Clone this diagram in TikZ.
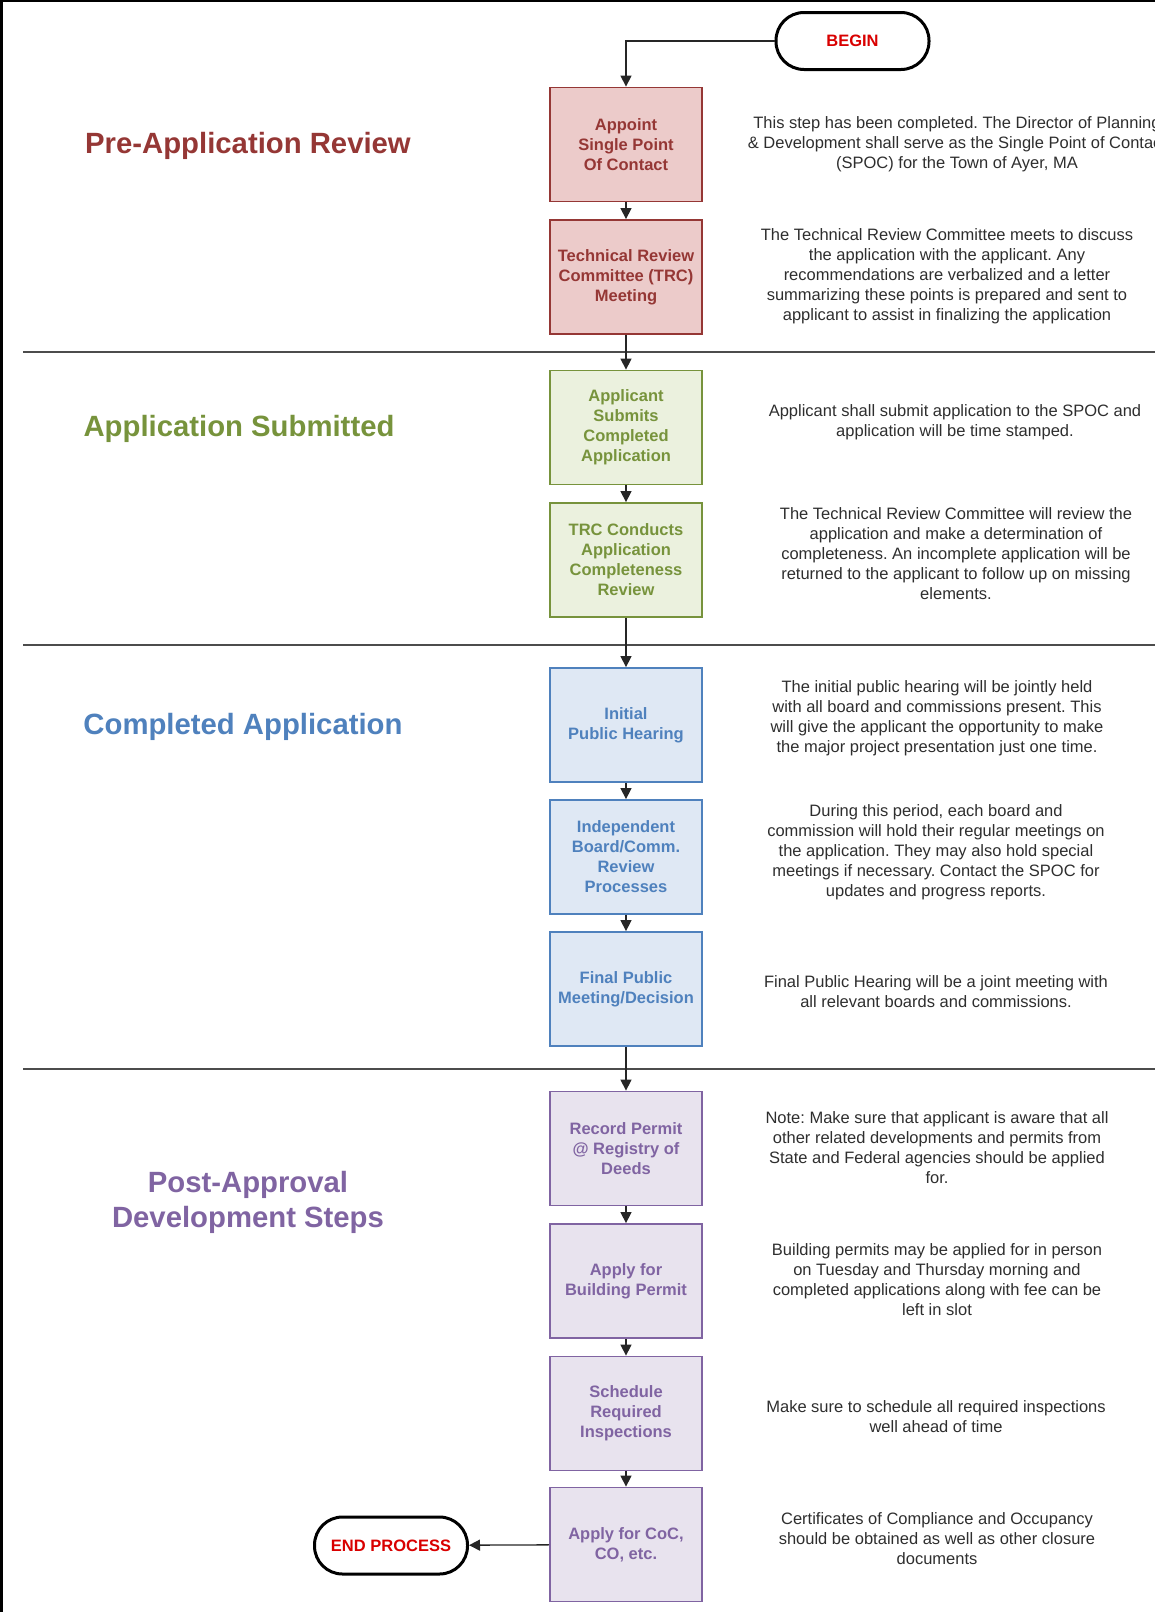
\documentclass[tikz,border=0pt]{standalone}
\usepackage{fontspec}
\setmainfont{Liberation Sans}
\usetikzlibrary{arrows.meta}
\definecolor{prered}{HTML}{953735}
\definecolor{prefill}{HTML}{ECCBCA}
\definecolor{subgreen}{HTML}{77933C}
\definecolor{subfill}{HTML}{EBF1DE}
\definecolor{compblue}{HTML}{4F81BD}
\definecolor{compfill}{HTML}{DFE8F4}
\definecolor{postpurple}{HTML}{8064A2}
\definecolor{postfill}{HTML}{E8E3EE}
\frenchspacing

\begin{document}
\begin{tikzpicture}[x=1pt, y=-1pt,
  stepbox/.style={rectangle, minimum width=152pt, minimum height=114pt, inner sep=0pt,
    line width=1.8pt, align=center, font=\fontsize{16.5}{20}\selectfont\bfseries},
  redbox/.style={stepbox, draw=prered, fill=prefill, text=prered},
  greenbox/.style={stepbox, draw=subgreen, fill=subfill, text=subgreen},
  bluebox/.style={stepbox, draw=compblue, fill=compfill, text=compblue},
  purplebox/.style={stepbox, draw=postpurple, fill=postfill, text=postpurple},
  terminal/.style={rectangle, rounded corners=28pt, minimum width=153pt, minimum height=57pt,
    line width=3pt, draw=black, fill=white, text=red!85!black, font=\fontsize{16.5}{20}\selectfont\bfseries},
  note/.style={align=center, text=black!82, font=\fontsize{16.5}{20}\selectfont},
  heading/.style={align=center, font=\fontsize{29.3}{35}\selectfont\bfseries},
  flow/.style={-{Triangle[length=11pt,width=11pt]}, line width=1.3pt, draw=black!85},
  sectline/.style={line width=1.8pt, draw=black!70}]
\useasboundingbox (0,0) rectangle (1155,1612);
\clip (0,0) rectangle (1155,1612);

% frame
\draw[line width=2.6pt] (1.3,1612) -- (1.3,0);
\draw[line width=1.5pt] (0,0.75) -- (1155,0.75);

% section rules
\draw[sectline] (23,352) -- (1155,352);
\draw[sectline] (23,645) -- (1155,645);
\draw[sectline] (23,1069) -- (1155,1069);

% headings
\node[heading, text=prered] (hpre) at (248,146) {Pre-Application Review};
\node[heading, text=subgreen] (hsub) at (239,429) {Application Submitted};
\node[heading, text=compblue] (hcomp) at (243,727) {Completed Application};
\node[heading, text=postpurple] (hpost) at (248,1202) {Post-Approval\\Development Steps};

% steps
\node[terminal] (begin) at (852.5,41) {BEGIN};
\node[redbox] (appoint) at (626,144.5) {Appoint\\Single Point\\Of Contact};
\node[redbox] (trc) at (626,277) {Technical Review\\Committee (TRC)\\Meeting};
\node[greenbox] (submit) at (626,427.5) {Applicant\\Submits\\Completed\\Application};
\node[greenbox] (complete) at (626,560) {TRC Conducts\\Application\\Completeness\\Review};
\node[bluebox] (hearing) at (626,725) {Initial\\Public Hearing};
\node[bluebox] (review) at (626,857) {Independent\\Board/Comm.\\Review\\Processes};
\node[bluebox] (final) at (626,989) {Final Public\\Meeting/Decision};
\node[purplebox] (record) at (626,1148.5) {Record Permit\\@ Registry of\\Deeds};
\node[purplebox] (building) at (626,1281) {Apply for\\Building Permit};
\node[purplebox] (inspect) at (626,1413.5) {Schedule\\Required\\Inspections};
\node[purplebox] (coc) at (626,1544.5) {Apply for CoC,\\CO, etc.};
\node[terminal] (endproc) at (391,1545.5) {END PROCESS};

% notes
\node[note] (n1) at (957,144) {This step has been completed. The Director of Planning\\\& Development shall serve as the Single Point of Contact\\(SPOC) for the Town of Ayer, MA};
\node[note] (n2) at (947,276) {The Technical Review Committee meets to discuss\\the application with the applicant. Any\\recommendations are verbalized and a letter\\summarizing these points is prepared and sent to\\applicant to assist in finalizing the application};
\node[note] (n3) at (955,422) {Applicant shall submit application to the SPOC and\\application will be time stamped.};
\node[note] (n4) at (956,554) {The Technical Review Committee will review the\\application and make a determination of\\completeness. An incomplete application will be\\returned to the applicant to follow up on missing\\elements.};
\node[note] (n5) at (937,718) {The initial public hearing will be jointly held\\with all board and commissions present. This\\will give the applicant the opportunity to make\\the major project presentation just one time.};
\node[note] (n6) at (936,852) {During this period, each board and\\commission will hold their regular meetings on\\the application. They may also hold special\\meetings if necessary. Contact the SPOC for\\updates and progress reports.};
\node[note] (n7) at (936,992) {Final Public Hearing will be a joint meeting with\\all relevant boards and commissions.};
\node[note] (n8) at (937,1148) {Note: Make sure that applicant is aware that all\\other related developments and permits from\\State and Federal agencies should be applied\\for.};
\node[note] (n9) at (937,1280) {Building permits may be applied for in person\\on Tuesday and Thursday morning and\\completed applications along with fee can be\\left in slot};
\node[note] (n10) at (936,1417) {Make sure to schedule all required inspections\\well ahead of time};
\node[note] (n11) at (937,1539) {Certificates of Compliance and Occupancy\\should be obtained as well as other closure\\documents};

% connectors
\draw[flow] (begin.west) -| (appoint.north);
\draw[flow] (appoint) -- (trc);
\draw[flow] (trc) -- (submit);
\draw[flow] (submit) -- (complete);
\draw[flow] (complete) -- (hearing);
\draw[flow] (hearing) -- (review);
\draw[flow] (review) -- (final);
\draw[flow] (final) -- (record);
\draw[flow] (record) -- (building);
\draw[flow] (building) -- (inspect);
\draw[flow] (inspect) -- (coc);
\draw[flow] (coc) -- (endproc);
\end{tikzpicture}
\end{document}
